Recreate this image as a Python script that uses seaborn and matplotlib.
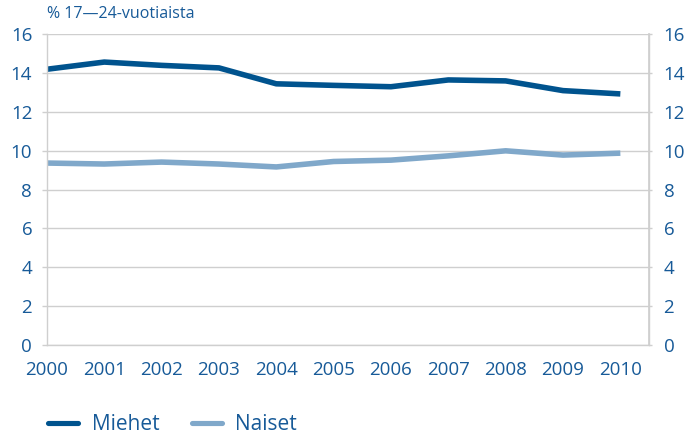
import matplotlib
matplotlib.use("Agg")
import matplotlib.pyplot as plt
import seaborn as sns
import pandas as pd
from matplotlib.lines import Line2D

years = [2000, 2001, 2002, 2003, 2004, 2005, 2006, 2007, 2008, 2009, 2010]
miehet = [14.2, 14.57, 14.4, 14.27, 13.45, 13.37, 13.3, 13.65, 13.6, 13.1, 12.93]
naiset = [9.37, 9.32, 9.42, 9.32, 9.17, 9.45, 9.52, 9.74, 10.0, 9.78, 9.88]
series_names = ["Miehet", "Naiset"]
yticks = [0, 2, 4, 6, 8, 10, 12, 14, 16]
title = "% 17\u201424-vuotiaista"

sns.set_theme(style="white")
plt.rcParams['font.family'] = ['Open Sans', 'DejaVu Sans']

TXT = "#175a98"
GRID = "#cfcfcf"
colors = {"Miehet": "#00538e", "Naiset": "#80a8ca"}

df = pd.DataFrame({
    "year": years * 2,
    "value": miehet + naiset,
    "series": [series_names[0]] * len(years) + [series_names[1]] * len(years),
})

fig = plt.figure(figsize=(6.9, 4.38), dpi=100)
ax = fig.add_axes([0.068, 0.2123, 0.8726, 0.7094])
sns.lineplot(data=df, x="year", y="value", hue="series", palette=colors,
             linewidth=4.0, ax=ax, legend=False, solid_capstyle="butt")

ax.set_xlim(2000, 2010.5)
ax.set_ylim(0, 16)
ax.set_yticks(yticks)
ax.set_xticks(years)
ax.set_xticklabels([str(y) for y in years])
ax.set_xlabel("")
ax.set_ylabel("")
ax.grid(axis="y", color=GRID, linewidth=1)
ax.set_axisbelow(True)
ax.spines["top"].set_visible(False)
for s in ["left", "right", "bottom"]:
    ax.spines[s].set_color(GRID)
    ax.spines[s].set_linewidth(1)
ax.tick_params(axis="y", colors=GRID, labelcolor=TXT, labelsize=13.5, length=3.6, width=1, pad=7)
ax.tick_params(axis="x", colors=GRID, labelcolor=TXT, labelsize=13.5, length=5.5, width=1, pad=6)

ax2 = ax.twinx()
ax2.set_ylim(0, 16)
ax2.set_yticks(yticks)
for s in ["top", "left", "bottom"]:
    ax2.spines[s].set_visible(False)
ax2.spines["right"].set_color(GRID)
ax2.tick_params(axis="y", colors=GRID, labelcolor=TXT, labelsize=13.5, length=2.5, width=1, pad=8)
ax2.grid(False)

fig.text(0.068, 0.968, title, color=TXT, fontsize=11.5, ha="left", va="center")

handles = [Line2D([0], [0], color=colors[n], linewidth=3.7, solid_capstyle="round") for n in series_names]
fig.legend(handles, series_names, loc="center left", bbox_to_anchor=(0.0696, 0.03),
           ncol=2, frameon=False, fontsize=15, labelcolor=TXT, handlelength=1.45,
           handletextpad=0.65, columnspacing=1.55, borderpad=0, borderaxespad=0)

fig.savefig("out.png", dpi=100)
